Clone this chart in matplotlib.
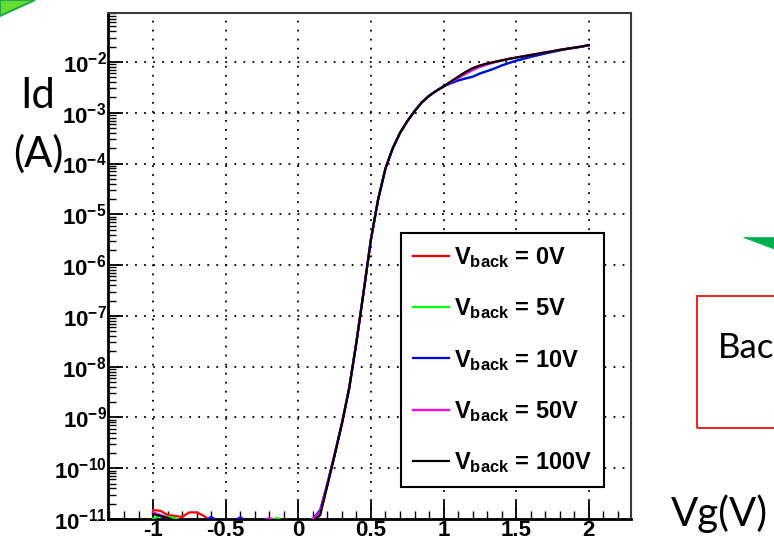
import matplotlib
matplotlib.use("Agg")
import matplotlib.pyplot as plt
from matplotlib.patches import Polygon, Rectangle
from matplotlib.ticker import LogLocator, FixedLocator, MultipleLocator, NullFormatter

plt.rcParams['mathtext.fontset'] = 'custom'
plt.rcParams['mathtext.rm'] = 'Liberation Sans:bold'
plt.rcParams['mathtext.bf'] = 'Liberation Sans:bold'
plt.rcParams['mathtext.it'] = 'Liberation Sans:bold'
plt.rcParams['font.family'] = ['Liberation Sans', 'DejaVu Sans']

# ---------------- data ----------------
vg = [-1.00, -0.95, -0.90, -0.85, -0.80, -0.75, -0.70, -0.65, -0.60, -0.55,
      -0.50, -0.45, -0.40, -0.35, -0.30, -0.25, -0.20, -0.15, -0.10, -0.05,
      0.00, 0.05, 0.10, 0.15, 0.20, 0.25, 0.30, 0.35, 0.40, 0.45,
      0.50, 0.55, 0.60, 0.65, 0.70, 0.75, 0.80, 0.85, 0.90, 0.95,
      1.00, 1.05, 1.10, 1.15, 1.20, 1.25, 1.30, 1.35, 1.40, 1.45,
      1.50, 1.55, 1.60, 1.65, 1.70, 1.75, 1.80, 1.85, 1.90, 1.95, 2.00]

id_0v = [1.5e-11, 1.45e-11, 1.2e-11, 1.15e-11, 1.1e-11, 1.35e-11, 1.35e-11, 1.15e-11, 9e-12, 9e-12,
         9e-12, 9e-12, 9e-12, 9e-12, 9e-12, 9e-12, 9e-12, 9e-12, 9e-12, 9e-12,
         9e-12, 9e-12, 9e-12, 1.2e-11, 4.6e-11, 1.8e-10, 7.5e-10, 3.7e-09, 3.0e-08, 3.0e-07,
         3.2e-06, 2.0e-05, 8.0e-05, 2.0e-04, 4.0e-04, 6.8e-04, 1.07e-03, 1.6e-03, 2.15e-03, 2.7e-03,
         3.3e-03, 4.1e-03, 5.1e-03, 6.3e-03, 7.5e-03, 8.5e-03, 9.3e-03, 1.0e-02, 1.07e-02, 1.15e-02,
         1.22e-02, 1.29e-02, 1.37e-02, 1.45e-02, 1.54e-02, 1.62e-02, 1.73e-02, 1.82e-02, 1.91e-02, 2.01e-02, 2.14e-02]

id_5v = [1.02e-11, 1.15e-11, 1.1e-11, 1.05e-11, 9e-12, 9e-12, 9e-12, 9e-12, 9e-12, 9e-12,
         9e-12, 9e-12, 9e-12, 9e-12, 9e-12, 9e-12, 9e-12, 1.05e-11, 9e-12, 9e-12,
         9e-12, 9e-12, 9e-12, 1.3e-11, 4.8e-11, 1.85e-10, 7.6e-10, 3.8e-09, 3.0e-08, 3.1e-07,
         3.2e-06, 2.0e-05, 8.0e-05, 2.0e-04, 4.0e-04, 6.8e-04, 1.07e-03, 1.6e-03, 2.15e-03, 2.7e-03,
         3.3e-03, 3.85e-03, 4.35e-03, 4.8e-03, 5.2e-03, 6.0e-03, 6.7e-03, 7.5e-03, 8.6e-03, 9.6e-03,
         1.06e-02, 1.15e-02, 1.26e-02, 1.36e-02, 1.47e-02, 1.58e-02, 1.69e-02, 1.8e-02, 1.9e-02, 2.0e-02, 2.14e-02]

id_10v = [1.3e-11, 1.15e-11, 1.0e-11, 9e-12, 9e-12, 9e-12, 9e-12, 9e-12, 1.1e-11, 9e-12,
          9e-12, 9e-12, 1.08e-11, 9e-12, 9e-12, 9e-12, 9e-12, 9e-12, 9e-12, 9e-12,
          9e-12, 9e-12, 1.0e-11, 1.5e-11, 5.0e-11, 1.9e-10, 7.7e-10, 3.8e-09, 3.1e-08, 3.1e-07,
          3.3e-06, 2.0e-05, 8.0e-05, 2.0e-04, 4.0e-04, 6.8e-04, 1.07e-03, 1.6e-03, 2.15e-03, 2.7e-03,
          3.3e-03, 3.8e-03, 4.3e-03, 4.7e-03, 5.1e-03, 5.9e-03, 6.6e-03, 7.4e-03, 8.5e-03, 9.5e-03,
          1.06e-02, 1.15e-02, 1.26e-02, 1.36e-02, 1.47e-02, 1.58e-02, 1.69e-02, 1.8e-02, 1.9e-02, 2.0e-02, 2.14e-02]

id_50v = [1.35e-11, 1.2e-11, 1.05e-11, 9e-12, 9e-12, 9e-12, 9e-12, 9e-12, 9e-12, 9e-12,
          9e-12, 9e-12, 9e-12, 9e-12, 9e-12, 9e-12, 1.05e-11, 9e-12, 9e-12, 9e-12,
          9e-12, 9e-12, 1.0e-11, 1.4e-11, 4.9e-11, 1.85e-10, 7.6e-10, 3.7e-09, 3.0e-08, 3.0e-07,
          3.2e-06, 2.0e-05, 8.0e-05, 2.0e-04, 4.0e-04, 6.8e-04, 1.07e-03, 1.6e-03, 2.15e-03, 2.7e-03,
          3.3e-03, 4.0e-03, 4.8e-03, 5.8e-03, 6.9e-03, 8.0e-03, 8.9e-03, 9.8e-03, 1.07e-02, 1.15e-02,
          1.22e-02, 1.29e-02, 1.37e-02, 1.45e-02, 1.54e-02, 1.62e-02, 1.73e-02, 1.82e-02, 1.91e-02, 2.01e-02, 2.16e-02]

id_100v = [1.25e-11, 1.15e-11, 1.05e-11, 9e-12, 9e-12, 9e-12, 9e-12, 9e-12, 9e-12, 9e-12,
           9e-12, 9e-12, 9e-12, 9e-12, 9e-12, 9e-12, 9e-12, 9e-12, 9e-12, 9e-12,
           9e-12, 9e-12, 9e-12, 1.2e-11, 4.6e-11, 1.8e-10, 7.5e-10, 3.7e-09, 3.0e-08, 3.0e-07,
           3.2e-06, 2.0e-05, 8.0e-05, 2.0e-04, 4.0e-04, 6.8e-04, 1.07e-03, 1.6e-03, 2.15e-03, 2.7e-03,
           3.3e-03, 4.1e-03, 5.1e-03, 6.3e-03, 7.5e-03, 8.5e-03, 9.3e-03, 1.0e-02, 1.07e-02, 1.15e-02,
           1.22e-02, 1.29e-02, 1.37e-02, 1.45e-02, 1.54e-02, 1.62e-02, 1.73e-02, 1.82e-02, 1.91e-02, 2.01e-02, 2.14e-02]

series_labels = ["0V", "5V", "10V", "50V", "100V"]
series_values = [id_0v, id_5v, id_10v, id_50v, id_100v]
series_colors = ["#ff0000", "#00ff00", "#0000ff", "#ff00ff", "#000000"]

x_ticks = [-1, -0.5, 0, 0.5, 1, 1.5, 2]
x_tick_labels = ["-1", "-0.5", "0", "0.5", "1", "1.5", "2"]
y_ticks = [1e-11, 1e-10, 1e-9, 1e-8, 1e-7, 1e-6, 1e-5, 1e-4, 1e-3, 1e-2]
y_tick_labels = [r"$\mathbf{10^{-11}}$", r"$\mathbf{10^{-10}}$", r"$\mathbf{10^{-9}}$",
                 r"$\mathbf{10^{-8}}$", r"$\mathbf{10^{-7}}$", r"$\mathbf{10^{-6}}$",
                 r"$\mathbf{10^{-5}}$", r"$\mathbf{10^{-4}}$", r"$\mathbf{10^{-3}}$",
                 r"$\mathbf{10^{-2}}$"]

# ---------------- figure ----------------
W, H = 774, 540
fig = plt.figure(figsize=(W / 100, H / 100), dpi=100)
fig.patch.set_facecolor("white")
ax = fig.add_axes([108 / W, 1 - 519 / H, 523 / W, 506 / H])

for lab, vals, col in zip(series_labels, series_values, series_colors):
    ax.plot(vg, vals, color=col, lw=1.6,
            label=r"$\mathbf{V_{back}}$" + " = " + lab, zorder=3)

ax.set_yscale("log")
ax.set_xlim(-1.31, 2.29)
ax.set_ylim(1e-11, 0.092)

ax.xaxis.set_major_locator(FixedLocator(x_ticks))
ax.set_xticklabels(x_tick_labels, fontsize=16, fontweight="bold")
ax.xaxis.set_minor_locator(MultipleLocator(0.1))
ax.yaxis.set_major_locator(FixedLocator(y_ticks))
ax.set_yticklabels(y_tick_labels, fontsize=16)
ax.yaxis.set_minor_locator(LogLocator(base=10, subs=range(2, 10), numticks=30))
ax.yaxis.set_minor_formatter(NullFormatter())

ax.tick_params(axis="both", which="both", direction="in", top=False, right=False, color="black")
ax.tick_params(axis="y", which="major", length=11, width=1.3, pad=1)
ax.tick_params(axis="y", which="minor", length=6, width=1.0)
ax.tick_params(axis="x", which="major", length=13, width=1.3, pad=0.5)
ax.tick_params(axis="x", which="minor", length=6, width=1.0)

ax.grid(True, which="major", color="black", linestyle=(0, (1, 4)), lw=1.3)

for s in ("left", "bottom"):
    ax.spines[s].set_linewidth(2.0)
    ax.spines[s].set_color("black")
for s in ("top", "right"):
    ax.spines[s].set_linewidth(1.5)
    ax.spines[s].set_color("#3a3a3a")

leg = ax.legend(loc="upper left", bbox_to_anchor=(0.561, 0.565),
                prop={"weight": "bold", "size": 17}, frameon=True, fancybox=False,
                edgecolor="black", framealpha=1.0, borderpad=0.5, labelspacing=1.12,
                handlelength=1.5, handletextpad=0.22, borderaxespad=0.0)
leg.get_frame().set_linewidth(1.5)
for line in leg.get_lines():
    line.set_linewidth(1.6)

# ---------------- slide decorations ----------------
def fx(px):
    return px / W

def fy(py):
    return 1 - py / H

fig.add_artist(Polygon([(fx(0), fy(0)), (fx(35), fy(0)), (fx(0), fy(16))], closed=True,
                       transform=fig.transFigure, facecolor="#66dd33", edgecolor="#1faa44", lw=1.5))
fig.add_artist(Polygon([(fx(743), fy(237)), (fx(775), fy(237)), (fx(775), fy(249))], closed=True,
                       transform=fig.transFigure, facecolor="#00b050", edgecolor="#00b050", lw=0.5))
fig.add_artist(Rectangle((fx(697), fy(428)), fx(90), 132 / H, transform=fig.transFigure,
                         facecolor="none", edgecolor="#ee1111", lw=1.3))

side_font = ["Lato", "DejaVu Sans"]
fig.text(fx(38), fy(108), "Id", ha="center", va="baseline", fontsize=30, family=side_font)
fig.text(fx(38), fy(167), "(A)", ha="center", va="baseline", fontsize=30, family=side_font)
fig.text(fx(671), fy(526), "Vg(V)", ha="left", va="baseline", fontsize=29, family=side_font)
fig.text(fx(718), fy(358), "Bac", ha="left", va="baseline", fontsize=25, family=side_font)

fig.savefig("out.png", dpi=100, facecolor="white")
